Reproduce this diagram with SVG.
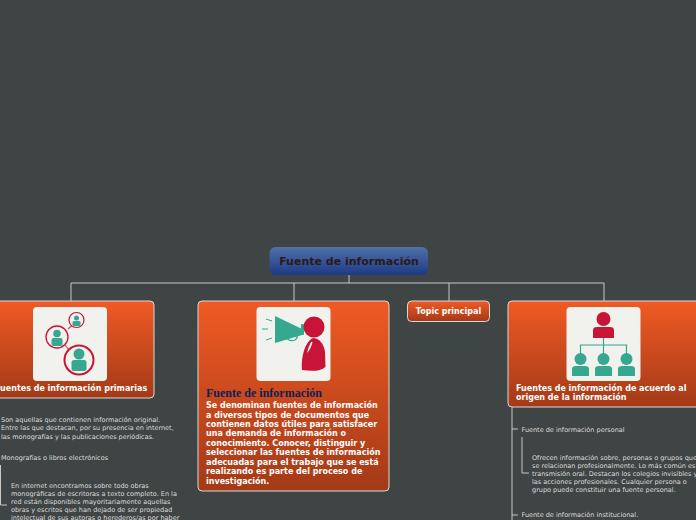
<svg xmlns="http://www.w3.org/2000/svg" width="696" height="520" viewBox="0 0 696 520">
<style>
.t{font-family:"DejaVu Sans",Verdana,sans-serif;font-size:6.500px;fill:#dcdcdc}
.b{font-family:"DejaVu Sans",Verdana,sans-serif;font-size:8px;font-weight:bold;fill:#fff}
.card{fill:url(#og);stroke:#d9d9d9;stroke-width:1}
.panel{fill:#f1f1ed}
.c{fill:none;stroke:#c8c8c8;stroke-width:1}
.g{fill:#35a88f}
.r{fill:#c81436}
.ring{fill:#f1f1ed;stroke:#c81436}
</style>
<defs>
<linearGradient id="og" x1="0" y1="0" x2="0" y2="1"><stop offset="0" stop-color="#f05a24"/><stop offset="1" stop-color="#a33a17"/></linearGradient>
<linearGradient id="bg" x1="0" y1="0" x2="0" y2="1"><stop offset="0" stop-color="#5270a8"/><stop offset="1" stop-color="#1c3a85"/></linearGradient>
</defs>
<rect width="696" height="520" fill="#3f4444"/>
<g id="connectors">
<path class="c" d="M349 275V283M71 301V283H604V301M294 283V301M449 283V301"/>
<path class="c" d="M512 407V520M512 429H518M512 515H518M522 437V473H529"/>
<path class="c" d="M0.500 465V505H7"/>
</g>
<g id="root">
<rect x="269.500" y="247" width="158.500" height="28" rx="6" fill="url(#bg)"/>
<text x="349" y="265" text-anchor="middle" font-family="DejaVu Sans,sans-serif" font-size="11" font-weight="bold" fill="#2a1a1a">Fuente de información</text>
</g>
<g id="primarias">
<rect class="card" x="-12" y="301" width="166" height="97" rx="4"/>
<rect class="panel" x="33" y="307" width="74" height="74" rx="4"/>
<path d="M68 329L76 322M65 345L72 354" stroke="#d84a68" stroke-width="1.200"/>
<circle class="ring" cx="76.500" cy="320" r="7.500" stroke-width="1.200"/>
<circle class="g" cx="76.500" cy="318" r="2.500"/><rect class="g" x="72.500" y="321" width="8" height="5" rx="1.500"/>
<circle class="ring" cx="57" cy="337" r="11" stroke-width="1.300"/>
<circle class="g" cx="57" cy="333.500" r="3.800"/><rect class="g" x="51.500" y="338" width="11" height="8" rx="2"/>
<circle class="ring" cx="79" cy="360" r="14.500" stroke-width="2"/>
<circle class="g" cx="79" cy="354" r="5.500"/><rect class="g" x="71.500" y="360" width="15" height="11" rx="2.500"/>
<text class="b" x="-5" y="391">Fuentes de información primarias</text>
</g>
<g id="primarias-text">
<text class="t"><tspan x="1" y="422">Son aquellas que contienen información original.</tspan><tspan x="1" y="430">Entre las que destacan, por su presencia en internet,</tspan><tspan x="1" y="438.500">las monografías y las publicaciones periódicas.</tspan></text>
<text class="t" x="1" y="460">Monografías o libros electrónicos</text>
<text class="t"><tspan x="11" y="488">En internet encontramos sobre todo obras</tspan><tspan x="11" y="496">monográficas de escritoras a texto completo. En la</tspan><tspan x="11" y="504">red están disponibles mayoritariamente aquellas</tspan><tspan x="11" y="512">obras y escritos que han dejado de ser propiedad</tspan><tspan x="11" y="520">intelectual de sus autoras o herederos/as por haber</tspan></text>
</g>
<g id="fuente">
<rect class="card" x="198" y="301" width="191" height="190" rx="4"/>
<rect class="panel" x="256.500" y="307" width="74" height="74" rx="4"/>
<path class="g" d="M275 316L302 329V335L275 343Z"/><rect class="g" x="301" y="324" width="3" height="11" rx="1"/>
<path d="M286 337Q289 342 295 340Q298 338 297 335" fill="none" stroke="#35a88f" stroke-width="1.300"/>
<path d="M266 319L272 321M262 329H268M266 340L272 338" stroke="#35a88f" stroke-width="1"/>
<circle class="r" cx="314" cy="327" r="10.500"/>
<path class="r" d="M313 338C319 338 324 344 325 352L325.500 367C320 372 310 371 302 370C301 362 303 343 313 338Z"/>
<path d="M311 342Q308 348 307 353Q311 349 312.500 342Z" fill="#f1f1ed"/>
<text x="206" y="397" font-family="Liberation Serif,serif" font-size="12" font-weight="bold" fill="#0f1f55">Fuente de información</text>
<text class="b"><tspan x="206" y="408">Se denominan fuentes de información</tspan><tspan x="206" y="417.500">a diversos tipos de documentos que</tspan><tspan x="206" y="427">contienen datos útiles para satisfacer</tspan><tspan x="206" y="436">una demanda de información o</tspan><tspan x="206" y="446">conocimiento. Conocer, distinguir y</tspan><tspan x="206" y="455">seleccionar las fuentes de información</tspan><tspan x="206" y="464.500">adecuadas para el trabajo que se está</tspan><tspan x="206" y="474">realizando es parte del proceso de</tspan><tspan x="206" y="483.500">investigación.</tspan></text>
</g>
<g id="topic">
<rect class="card" x="407.500" y="301" width="82" height="20.500" rx="4"/>
<text class="b" x="448.500" y="314" text-anchor="middle">Topic principal</text>
</g>
<g id="origen">
<rect class="card" x="508" y="301" width="200" height="106" rx="4"/>
<rect class="panel" x="566.500" y="307" width="74" height="74" rx="4"/>
<circle class="r" cx="603.500" cy="319" r="7"/><path class="r" d="M593 338V330Q593 327 597 327H610Q614 327 614 330V338Z"/>
<path d="M603.500 338V357M580.500 357V345H626.500V357" fill="none" stroke="#35a88f" stroke-width="1.200"/>
<g class="g"><circle cx="580.500" cy="359" r="6"/><path d="M572 376V369Q572 366 576 366H585Q589 366 589 369V376Z"/><circle cx="603.500" cy="359" r="6"/><path d="M595 376V369Q595 366 599 366H608Q612 366 612 369V376Z"/><circle cx="626.500" cy="359" r="6"/><path d="M618 376V369Q618 366 622 366H631Q635 366 635 369V376Z"/></g>
<text class="b"><tspan x="516" y="391">Fuentes de información de acuerdo al</tspan><tspan x="516" y="400">origen de la información</tspan></text>
</g>
<g id="origen-text">
<text class="t" x="521.500" y="432">Fuente de información personal</text>
<text class="t"><tspan x="532" y="460">Ofrecen información sobre, personas o grupos que</tspan><tspan x="532" y="468">se relacionan profesionalmente. Lo más común es</tspan><tspan x="532" y="476">transmisión oral. Destacan los colegios invisibles y</tspan><tspan x="532" y="484">las acciones profesionales. Cualquier persona o</tspan><tspan x="532" y="492">grupo puede constituir una fuente personal.</tspan></text>
<text class="t" x="521.500" y="517">Fuente de información institucional.</text>
</g>
</svg>
